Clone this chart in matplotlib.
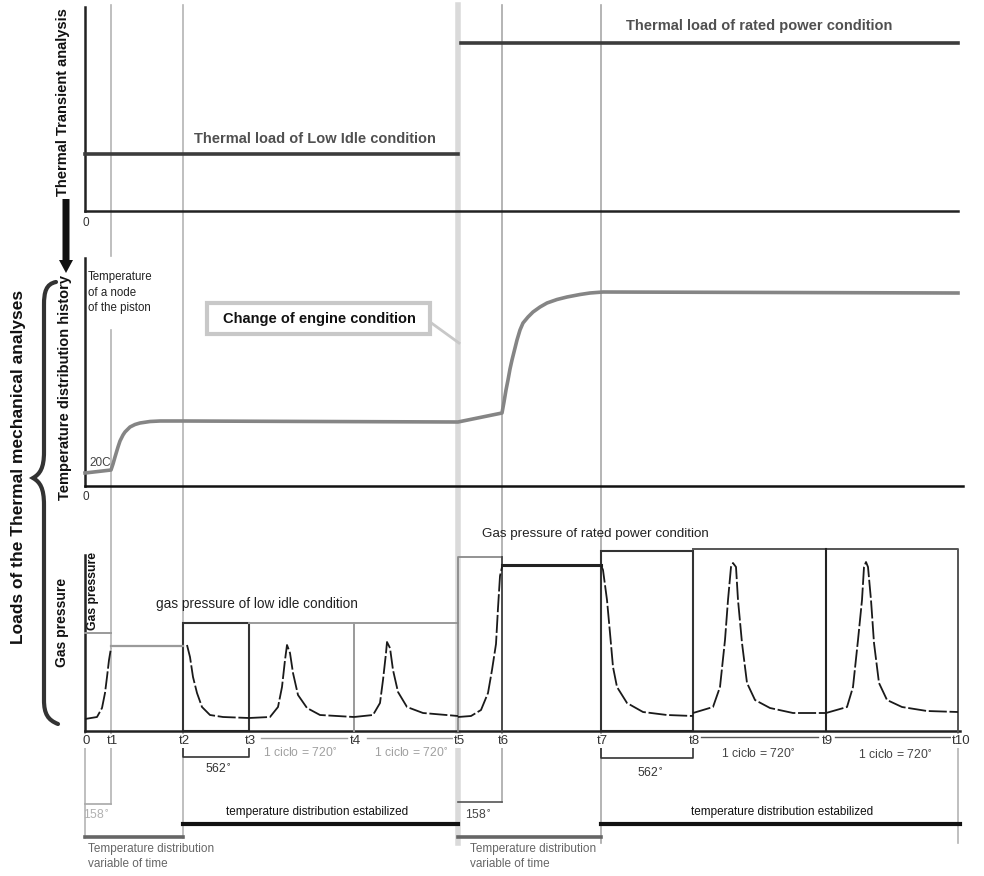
import matplotlib
matplotlib.use("Agg")
import matplotlib.pyplot as plt
from matplotlib.patches import Rectangle, FancyArrow, PathPatch
from matplotlib.path import Path

plt.rcParams['font.family'] = ['Liberation Sans', 'DejaVu Sans']

# ---------------- data ----------------
time_labels = ['0', 't1', 't2', 't3', 't4', 't5', 't6', 't7', 't8', 't9', 't10']
time_pos = [0, 26, 98, 164, 269, 373, 417, 516, 608, 741, 873]

# thermal load levels (top panel)
low_idle_load = 57
rated_load = 168

# temperature of a node of the piston (middle panel)
temp_t = [0, 26, 28, 30, 33, 35, 38, 40, 43, 45, 50, 55, 65, 75, 98, 373, 417,
          419, 421, 423, 425, 427, 430, 432, 435, 438, 443, 448, 455, 462, 472,
          482, 495, 505, 518, 873]
temp_v = [13, 16, 22, 29, 39, 45, 51, 54, 57, 59, 61.5, 63, 64.5, 65, 65, 64, 73,
          84, 96, 106, 117, 126, 138, 146, 156, 163, 169, 174, 179, 183, 186.5,
          189, 191.5, 193, 194, 193]

# gas pressure segments (bottom panel)
p1_t = [0, 12, 17, 20, 22, 24, 26]
p1_v = [12, 14, 23, 38, 54, 71, 83]
p2_t = [102, 105, 108, 112, 117, 125, 138, 164]
p2_v = [86, 74, 54, 38, 24, 16, 14, 13]
p3_t = [164, 185, 193, 197, 200, 202, 205, 208, 213, 222, 235, 269]
p3_v = [13, 14, 24, 44, 71, 86, 78, 58, 36, 23, 16, 14]
p4_t = [269, 288, 295, 298, 301, 302, 305, 308, 313, 322, 338, 373]
p4_v = [14, 16, 28, 51, 78, 89, 83, 61, 39, 24, 18, 15]
p5_t = [373, 386, 396, 403, 407, 411, 413, 415, 417]
p5_v = [14, 15, 21, 38, 61, 87, 123, 155, 164]
p6_t = [516, 518, 522, 525, 528, 532, 542, 558, 582, 608]
p6_v = [166, 161, 131, 98, 64, 44, 28, 19, 16, 15]
p7_t = [608, 628, 635, 640, 643, 646, 648, 651, 653, 657, 662, 670, 685, 708, 741]
p7_v = [18, 24, 44, 91, 131, 164, 168, 164, 131, 88, 48, 31, 23, 18, 18]
p8_t = [741, 762, 768, 773, 777, 779, 781, 783, 786, 789, 794, 802, 817, 842, 873]
p8_v = [18, 24, 44, 91, 131, 164, 169, 164, 131, 88, 48, 31, 24, 20, 19]

start_box_top = 98
idle_hold = 85
idle_box_top = 108
rated_start_top = 174
rated_hold = 166
rated_box_top = 180
rated_cycle_top = 182

# ---------------- figure ----------------
W, H = 984, 876
fig = plt.figure(figsize=(9.84, 8.76), dpi=100)
fig.patch.set_facecolor('white')

ov = fig.add_axes([0, 0, 1, 1], zorder=0)
ov.set_xlim(-85, W - 85)
ov.set_ylim(H, 0)
ov.axis('off')


def panel(top, bottom, ymax):
    ax = fig.add_axes([85 / W, 1 - bottom / H, 880 / W, (bottom - top) / H], zorder=2)
    ax.set_xlim(0, 880)
    ax.set_ylim(0, ymax)
    ax.patch.set_visible(False)
    for s in ax.spines.values():
        s.set_visible(False)
    ax.set_xticks([])
    ax.set_yticks([])
    return ax


ax_top = panel(5, 211, 206)
ax_mid = panel(258, 486, 228)
ax_p = panel(549, 731, 182)

T = time_pos
LG = '#b4b4b4'

# ---- vertical guide lines (overlay, pixel y) ----
ov.plot([T[1], T[1]], [5, 256], color=LG, lw=1.2)
ov.plot([T[1], T[1]], [330, 804], color=LG, lw=1.2)
ov.plot([T[2], T[2]], [5, 838], color=LG, lw=1.2)
ov.plot([T[5], T[5]], [5, 843], color='#dadada', lw=4)
ov.plot([T[6], T[6]], [5, 802], color='#a8a8a8', lw=1.2)
ov.plot([T[7], T[7]], [5, 843], color='#a8a8a8', lw=1.2)
ov.plot([T[0], T[0]], [731, 838], color=LG, lw=1.2)
ov.plot([T[10], T[10]], [731, 843], color=LG, lw=1.2)

# ---- top panel ----
ax_top.plot([0, 0], [0, 204], color='#222222', lw=1.8, clip_on=False)
ax_top.plot([0, 873], [0, 0], color='#222222', lw=1.8, clip_on=False)
ax_top.plot([T[0], T[5]], [low_idle_load, low_idle_load], color='#3c3c3c', lw=2.6,
            clip_on=False)
ax_top.plot([T[5] + 3, T[10]], [rated_load, rated_load], color='#3c3c3c', lw=2.6,
            clip_on=False)
ov.text(230, 139, 'Thermal load of Low Idle condition', ha='center', va='center',
        fontsize=10.5, fontweight='bold', color='#505050')
ov.text(674, 26, 'Thermal load of rated power condition', ha='center', va='center',
        fontsize=10.5, fontweight='bold', color='#505050')
ov.text(1, 223, '0', ha='center', va='center', fontsize=8.5, color='#333333')
ov.text(-22, 102, 'Thermal Transient analysis', rotation=90, ha='center', va='center',
        fontsize=10.5, fontweight='bold', color='#111111')

# black arrow
ov.add_patch(FancyArrow(-19, 199, 0, 74, width=7, head_width=14, head_length=13,
                        length_includes_head=True, color='#111111', lw=0))

# ---- middle panel ----
ax_mid.plot([0, 0], [0, 228], color='#222222', lw=1.8, clip_on=False)
ax_mid.plot([0, 878], [0, 0], color='#111111', lw=1.8, clip_on=False)
ax_mid.plot(temp_t, temp_v, color='#858585', lw=2.6, clip_on=False,
            solid_joinstyle='round')
ov.text(3, 271, 'Temperature\nof a node\nof the piston', ha='left', va='top',
        fontsize=8.3, color='#222222', linespacing=1.4)
ax_mid.text(4, 23, '20C', ha='left', va='center', fontsize=8.5, color='#444444')
ov.text(1, 497, '0', ha='center', va='center', fontsize=8.5, color='#333333')
ov.text(-20, 388, 'Temperature distribution history', rotation=90, ha='center',
        va='center', fontsize=10.5, fontweight='bold', color='#111111')

# change of engine condition box
ov.add_patch(Rectangle((122, 303), 223, 31, fill=True, facecolor='white',
                       edgecolor='#c8c8c8', lw=3, zorder=3))
ov.text(234, 319, 'Change of engine condition', ha='center', va='center',
        fontsize=10.5, fontweight='bold', color='#111111', zorder=4)
ov.plot([345, 374], [322, 343], color='#c8c8c8', lw=2)

# ---- bottom panel (gas pressure) ----
ax_p.plot([0, 0], [0, 176], color='#222222', lw=1.8, clip_on=False)
ax_p.plot([0, 875], [0, 0], color='#222222', lw=1.8, clip_on=False)
GR = '#9a9a9a'
ax_p.plot([T[0], T[1]], [start_box_top, start_box_top], color=GR, lw=1.4, clip_on=False)
ax_p.plot([T[1], T[2]], [idle_hold, idle_hold], color=GR, lw=1.6, clip_on=False)
ax_p.add_patch(Rectangle((T[2], 0), T[3] - T[2], idle_box_top, fill=False,
                         edgecolor='#333333', lw=1.5, clip_on=False))
ax_p.plot([T[3], T[5]], [idle_box_top, idle_box_top], color=GR, lw=1.4, clip_on=False)
ax_p.plot([T[4], T[4]], [0, idle_box_top], color=GR, lw=1.4, clip_on=False)
ax_p.plot([T[5], T[5], T[6]], [0, rated_start_top, rated_start_top], color='#8a8a8a',
          lw=1.3, clip_on=False)
ax_p.plot([T[6], T[6]], [0, rated_start_top], color='#444444', lw=1.3, clip_on=False)
ax_p.plot([T[6], T[7]], [rated_hold, rated_hold], color='#222222', lw=2.2, clip_on=False)
ax_p.add_patch(Rectangle((T[7], 0), T[8] - T[7], rated_box_top, fill=False,
                         edgecolor='#333333', lw=1.5, clip_on=False))
ax_p.plot([T[8], T[10], T[10]], [rated_cycle_top, rated_cycle_top, 0], color='#555555',
          lw=1.4, clip_on=False)
ax_p.plot([T[9], T[9]], [0, rated_cycle_top], color='#222222', lw=1.5, clip_on=False)

dash = (0, (10, 1.5))
for xs, ys in [(p1_t, p1_v), (p2_t, p2_v), (p3_t, p3_v), (p4_t, p4_v),
               (p5_t, p5_v), (p6_t, p6_v), (p7_t, p7_v), (p8_t, p8_v)]:
    ax_p.plot(xs, ys, color='#1a1a1a', lw=1.3, linestyle=dash, clip_on=False)

ov.text(71, 604, 'gas pressure of low idle condition', ha='left', va='center',
        fontsize=9.8, color='#222222')
ov.text(397, 534, 'Gas pressure of rated power condition', ha='left', va='center',
        fontsize=9.6, color='#222222')
ov.text(8, 591, 'Gas pressure', rotation=90, ha='center', va='center',
        fontsize=8.8, fontweight='bold', color='#111111')
ov.text(-23, 622, 'Gas pressure', rotation=90, ha='center', va='center',
        fontsize=10, fontweight='bold', color='#111111')
ov.text(-67, 467, 'Loads of the Thermal mechanical analyses', rotation=90,
        ha='center', va='center', fontsize=12.5, fontweight='bold', color='#111111')

# brace
bx = -85
verts = [(56 + bx, 282), (46 + bx, 284), (44 + bx, 292), (44 + bx, 305),
         (44 + bx, 452), (44 + bx, 468), (40 + bx, 474), (33 + bx, 478),
         (40 + bx, 482), (44 + bx, 488), (44 + bx, 505),
         (44 + bx, 700), (44 + bx, 714), (48 + bx, 720), (58 + bx, 724)]
codes = [Path.MOVETO, Path.CURVE4, Path.CURVE4, Path.CURVE4,
         Path.LINETO, Path.CURVE4, Path.CURVE4, Path.CURVE4,
         Path.CURVE4, Path.CURVE4, Path.CURVE4,
         Path.LINETO, Path.CURVE4, Path.CURVE4, Path.CURVE4]
ov.add_patch(PathPatch(Path(verts, codes), fill=False, edgecolor='#333333', lw=3,
                       capstyle='round'))

# ---- time labels ----
for x, lab in zip(time_pos, time_labels):
    ov.text(x + (3 if lab == 't10' else 1), 741, lab, ha='center', va='center',
            fontsize=9.5, color='#333333', zorder=5,
            bbox=dict(facecolor='white', edgecolor='none', pad=0.6))

# cycle annotations
CG = '#a0a0a0'
ov.plot([176, 262], [738, 738], color=CG, lw=1)
ov.plot([282, 368], [738, 738], color=CG, lw=1)
ov.text(215, 753, r'1 ciclo = 720$^{\circ}$', ha='center', va='center', fontsize=8.8,
        color='#a0a0a0')
ov.text(326, 753, r'1 ciclo = 720$^{\circ}$', ha='center', va='center', fontsize=8.8,
        color='#a0a0a0')
ov.plot([616, 733], [737, 737], color='#555555', lw=1)
ov.plot([750, 866], [737, 737], color='#555555', lw=1)
ov.text(673, 754, r'1 ciclo = 720$^{\circ}$', ha='center', va='center', fontsize=8.8,
        color='#444444')
ov.text(810, 755, r'1 ciclo = 720$^{\circ}$', ha='center', va='center', fontsize=8.8,
        color='#444444')

# 562 brackets
ov.plot([T[2], T[2], T[3], T[3]], [748, 757, 757, 748], color='#333333', lw=1.2)
ov.text(133, 769, r'562$^{\circ}$', ha='center', va='center', fontsize=8.8,
        color='#333333')
ov.plot([T[7], T[7], T[8], T[8]], [748, 758, 758, 748], color='#333333', lw=1.2)
ov.text(565, 773, r'562$^{\circ}$', ha='center', va='center', fontsize=8.8,
        color='#333333')

# 158 brackets
ov.plot([T[0], T[1]], [804, 804], color='#a8a8a8', lw=1.2)
ov.text(11, 815, r'158$^{\circ}$', ha='center', va='center', fontsize=8.8,
        color='#b0b0b0')
ov.plot([T[5], T[6]], [802, 802], color='#555555', lw=1.2)
ov.text(393, 815, r'158$^{\circ}$', ha='center', va='center', fontsize=8.8,
        color='#444444')

# stabilized / variable spans
ov.plot([T[2], T[5]], [824, 824], color='#111111', lw=3)
ov.text(232, 812, 'temperature distribution estabilized', ha='center', va='center',
        fontsize=8.5, color='#111111')
ov.plot([T[7], T[10] + 2], [824, 824], color='#111111', lw=3)
ov.text(697, 812, 'temperature distribution estabilized', ha='center', va='center',
        fontsize=8.5, color='#111111')
ov.plot([T[0], T[2]], [837, 837], color='#666666', lw=2.6)
ov.plot([T[5], T[7]], [837, 837], color='#666666', lw=2.6)
ov.text(3, 843, 'Temperature distribution\nvariable of time', ha='left', va='top',
        fontsize=8.5, color='#666666', linespacing=1.3)
ov.text(385, 843, 'Temperature distribution\nvariable of time', ha='left', va='top',
        fontsize=8.5, color='#666666', linespacing=1.3)

fig.savefig('out.png', dpi=100, facecolor='white')
